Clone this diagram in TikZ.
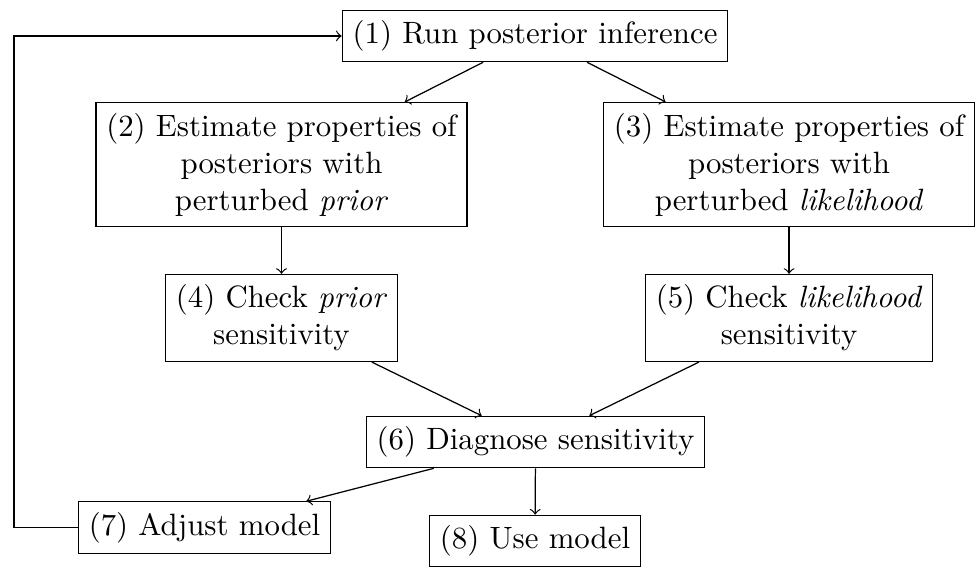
\documentclass[tikz,border=0pt]{standalone}
\begin{document}
\begin{tikzpicture}[
	      	stage/.style={draw, align=center, inner sep=3.33pt}]
	          \useasboundingbox (0,0) rectangle (11.149,-6.464);
	          \node[stage] (1) at (6.099,-0.410) {(1) Run posterior inference};
	          \node[stage] (2) at (3.209,-1.875) {(2) Estimate properties of\\posteriors with\\perturbed \emph{prior}};
	          \node[stage] (3) at (8.995,-1.875) {(3) Estimate properties of\\posteriors with\\perturbed \emph{likelihood}};
	          \node[stage] (4) at (3.209,-3.625) {(4) Check \emph{prior}\\sensitivity};
	          \node[stage] (5) at (8.995,-3.625) {(5) Check \emph{likelihood}\\sensitivity};
	          \node[stage] (6) at (6.105,-5.039) {(6) Diagnose sensitivity};
	          \node[stage] (7) at (2.331,-6.014) {(7) Adjust model};
	          \node[stage] (8) at (6.099,-6.167) {(8) Use model};
	          \coordinate (back) at (0.160,-6.014);
	          \draw[->] (1) -- (2);
	          \draw[->] (1) -- (3);
	          \draw[->] (2) -- (4);
	          \draw[->] (3) -- (5);
	          \draw[->] (4) -- (6);
	          \draw[->] (5) -- (6);
	          \draw[->] (6) -- (7);
	          \draw[->] (6) -- (8);
	          \draw[->] (7) -- (back) |- (1);
	      \end{tikzpicture}
\end{document}
